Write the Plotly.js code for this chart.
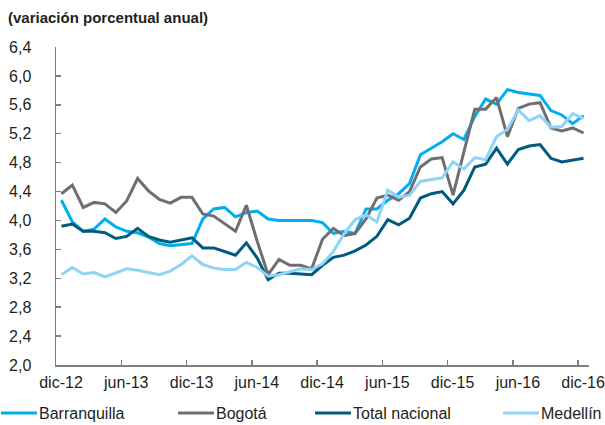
<!DOCTYPE html>
<html>
<head>
<meta charset="utf-8">
<script src="https://cdn.plot.ly/plotly-3.0.1.min.js"></script>
<style>
  html, body { margin: 0; padding: 0; background: #fff; }
  #chart { width: 605px; height: 425px; }
</style>
</head>
<body>
<div id="chart"></div>
<script>
// ---- data ----
const months = ["dic-12","ene-13","feb-13","mar-13","abr-13","may-13","jun-13","jul-13","ago-13","sep-13","oct-13","nov-13",
  "dic-13","ene-14","feb-14","mar-14","abr-14","may-14","jun-14","jul-14","ago-14","sep-14","oct-14","nov-14",
  "dic-14","ene-15","feb-15","mar-15","abr-15","may-15","jun-15","jul-15","ago-15","sep-15","oct-15","nov-15",
  "dic-15","ene-16","feb-16","mar-16","abr-16","may-16","jun-16","jul-16","ago-16","sep-16","oct-16","nov-16","dic-16"];
const tickLabels = ["dic-12","jun-13","dic-13","jun-14","dic-14","jun-15","dic-15","jun-16","dic-16"];
const seriesNames = ["Barranquilla","Bogotá","Total nacional","Medellín"];

const barranquilla = [4.28,3.98,3.85,3.88,4.02,3.91,3.85,3.83,3.77,3.68,3.65,3.66,
  3.68,4.02,4.16,4.18,4.05,4.11,4.13,4.02,4.00,4.00,4.00,4.00,
  3.97,3.82,3.85,3.82,4.16,4.16,4.28,4.37,4.51,4.91,5.00,5.09,
  5.20,5.12,5.44,5.68,5.61,5.81,5.77,5.75,5.73,5.52,5.46,5.34,5.45];
const bogota = [4.37,4.49,4.18,4.25,4.23,4.11,4.27,4.58,4.41,4.29,4.24,4.32,
  4.32,4.09,4.06,3.95,3.85,4.21,3.71,3.25,3.46,3.38,3.38,3.33,
  3.74,3.89,3.79,3.82,4.02,4.31,4.35,4.28,4.40,4.74,4.85,4.87,
  4.35,4.95,5.54,5.54,5.70,5.16,5.55,5.61,5.63,5.28,5.24,5.28,5.21];
const totalNacional = [3.92,3.95,3.85,3.85,3.83,3.75,3.78,3.89,3.78,3.73,3.70,3.73,
  3.76,3.62,3.62,3.57,3.52,3.69,3.48,3.18,3.27,3.27,3.26,3.25,
  3.38,3.49,3.52,3.58,3.66,3.78,4.01,3.94,4.03,4.31,4.37,4.40,
  4.23,4.42,4.74,4.78,5.00,4.78,4.98,5.03,5.05,4.86,4.81,4.84,4.86];
const medellin = [3.25,3.35,3.26,3.28,3.22,3.28,3.33,3.31,3.28,3.25,3.30,3.39,
  3.51,3.39,3.34,3.32,3.32,3.42,3.35,3.23,3.25,3.29,3.33,3.32,
  3.40,3.57,3.82,4.01,4.08,3.98,4.42,4.32,4.35,4.54,4.57,4.59,
  4.81,4.71,4.87,4.84,5.16,5.26,5.53,5.38,5.45,5.29,5.30,5.48,5.41];
const yTicks = [2.0,2.4,2.8,3.2,3.6,4.0,4.4,4.8,5.2,5.6,6.0,6.4];

// ---- styling ----
const colors = ["#00aeef","#6f6f71","#005b7f","#8fd4f5"];
const allSeries = [barranquilla, bogota, totalNacional, medellin];
const idx = months.map((m,i)=>i);
const FONT = "Liberation Sans, Arial, sans-serif";

const traces = allSeries.map((vals, k) => ({
  type: "scatter", mode: "lines",
  x: idx, y: vals, name: seriesNames[k],
  text: months,
  line: { color: colors[k], width: 3 },
  showlegend: false,
  hovertemplate: "%{text}: %{y:.2f}<extra>" + seriesNames[k] + "</extra>"
}));

// boundary ticks between months (every 6 months)
const boundaryTicks = tickLabels.map((t,i)=> i*6 - 0.5);

const L = 56, R = 16, T = 47, B = 60;
const W = 605, H = 425;
const pw = W - L - R, ph = H - T - B;
const px2paperX = p => (p - L) / pw;
const py2paperY = p => (H - B - p) / ph;

// manual legend layout (pixels)
const legLineStart = [1, 178, 315, 503];
const legLineLen = 36;
const legY = 413;

const shapes = [];
const annotations = [];
seriesNames.forEach((n,k)=>{
  shapes.push({ type:"line", xref:"paper", yref:"paper",
    x0: px2paperX(legLineStart[k]), x1: px2paperX(legLineStart[k]+legLineLen),
    y0: py2paperY(legY), y1: py2paperY(legY),
    line:{ color: colors[k], width: 3 } });
  annotations.push({ xref:"paper", yref:"paper",
    x: px2paperX(legLineStart[k]+legLineLen), y: py2paperY(legY),
    xanchor:"left", yanchor:"middle", showarrow:false, text:n,
    font:{ family: FONT, size: 16, color:"#231f20" } });
});

const layout = {
  width: W, height: H,
  margin: { l: L, r: R, t: T, b: B, pad: 0 },
  paper_bgcolor: "#fff", plot_bgcolor: "#fff",
  separators: ",.",
  title: { text: "(variación porcentual anual)", x: 8/W, xanchor: "left",
    xref: "container", yref: "container", y: 1 - 18/H, yanchor: "middle",
    font: { family: FONT, size: 15, color: "#231f20", weight: "bold" } },
  xaxis: {
    range: [-0.5, 48.5], tickmode: "array", tickvals: boundaryTicks, ticktext: tickLabels,
    ticklabelshift: 5, ticklabelstandoff: 2, ticklabeloverflow: "allow",
    ticks: "inside", ticklen: 5, tickwidth: 1.5, tickcolor: "#7f7f7f",
    showline: true, linecolor: "#7f7f7f", linewidth: 1.5,
    showgrid: false, zeroline: false, fixedrange: true,
    tickfont: { family: FONT, size: 16, color: "#231f20" }
  },
  yaxis: {
    range: [2.0, 6.4], tickmode: "array", tickvals: yTicks, tickformat: ".1f",
    ticks: "inside", ticklen: 5, tickwidth: 1.5, tickcolor: "#7f7f7f",
    showline: true, linecolor: "#7f7f7f", linewidth: 1.5,
    showgrid: false, zeroline: false, fixedrange: true,
    ticklabelstandoff: 20,
    tickfont: { family: FONT, size: 16, color: "#231f20" }
  },
  shapes: shapes,
  annotations: annotations,
  showlegend: false
};

Plotly.newPlot("chart", traces, layout, { displayModeBar: false, staticPlot: true });
</script>
</body>
</html>
